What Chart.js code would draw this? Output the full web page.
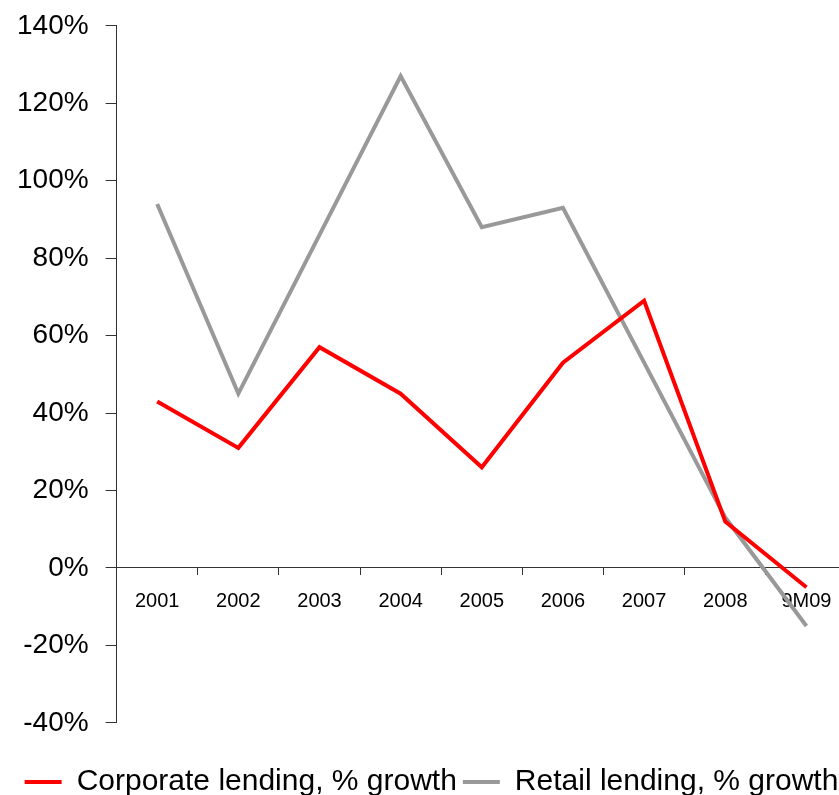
<!DOCTYPE html>
<html>
<head>
<meta charset="utf-8">
<script src="https://cdn.jsdelivr.net/npm/chart.js@4/dist/chart.umd.min.js"></script>
<style>
  html, body { margin: 0; padding: 0; background: #fff; overflow: hidden; }
  #wrap { width: 860px; height: 815px; margin-top: -8px; }
</style>
</head>
<body>
<div id="wrap"><canvas id="chart" width="860" height="815"></canvas></div>
<script>
const years = ['2001', '2002', '2003', '2004', '2005', '2006', '2007', '2008', '9M09'];
const corporateGrowth = [43, 31, 57, 45, 26, 53, 69, 12, -5];
const retailGrowth = [94, 45, 86, 127, 88, 93, 53, 13, -15];

const ctx = document.getElementById('chart').getContext('2d');
Chart.defaults.font.family = 'Arial, "Liberation Sans", sans-serif';
Chart.defaults.color = '#000';

const chart = new Chart(ctx, {
    type: 'line',
    data: {
        labels: years,
        datasets: [
            {
                label: 'Corporate lending, % growth',
                data: corporateGrowth,
                borderColor: '#ff0000',
                backgroundColor: '#ff0000',
                borderWidth: 4,
                pointRadius: 0,
                tension: 0
            },
            {
                label: 'Retail lending, % growth',
                data: retailGrowth,
                borderColor: '#999999',
                backgroundColor: '#999999',
                borderWidth: 4,
                pointRadius: 0,
                tension: 0
            }
        ]
    },
    options: {
        responsive: false,
        animation: false,
        layout: { padding: { left: 16, right: 13, top: 9, bottom: 0 } },
        scales: {
            x: {
                position: { y: 0 },
                offset: true,
                grid: {
                    offset: true,
                    drawOnChartArea: false,
                    tickLength: 7,
                    color: '#333'
                },
                border: { color: '#333', width: 1 },
                ticks: {
                    padding: 15,
                    maxRotation: 0,
                    font: { size: 20 }
                }
            },
            y: {
                min: -40,
                max: 140,
                // keep the axis line at the same spot while the legend gets left padding
                afterFit: scale => { scale.width -= 16; },
                grid: {
                    drawOnChartArea: false,
                    tickLength: 11,
                    color: '#333'
                },
                border: { color: '#333', width: 1 },
                ticks: {
                    stepSize: 20,
                    padding: 17,
                    font: { size: 28 },
                    callback: v => v + '%'
                }
            }
        },
        plugins: {
            tooltip: { enabled: false },
            legend: {
                position: 'bottom',
                // empty title only used as a spacer above the legend row
                title: { display: true, text: '', font: { size: 1 }, padding: { top: 37, bottom: 0 } },
                labels: {
                    boxWidth: 37,
                    boxHeight: 4,
                    padding: 6,
                    font: { size: 30 },
                    generateLabels: c => Chart.defaults.plugins.legend.labels.generateLabels(c)
                        .map(item => Object.assign(item, { lineWidth: 0 }))
                }
            }
        }
    }
});
</script>
</body>
</html>
